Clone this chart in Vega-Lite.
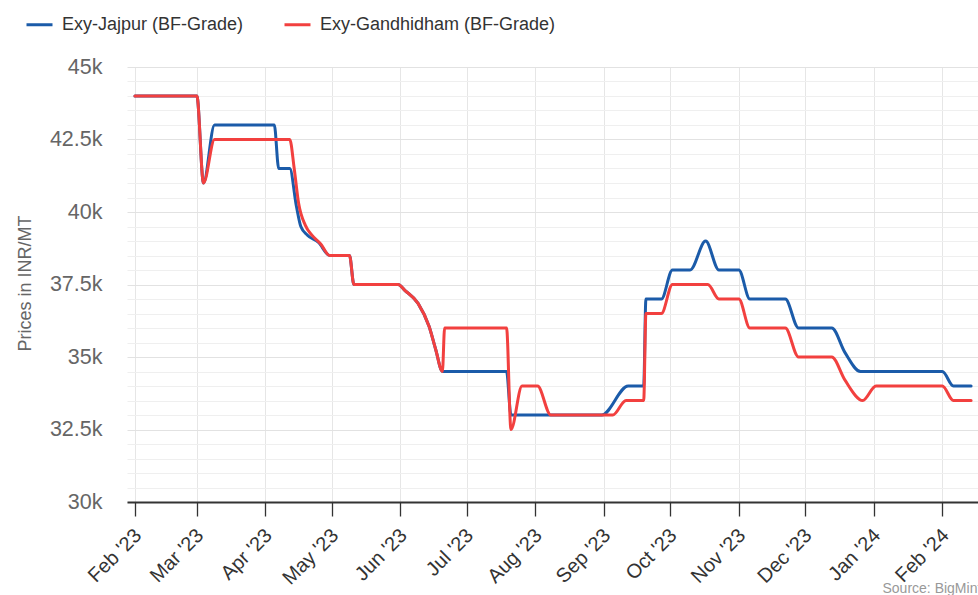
{
  "$schema": "https://vega.github.io/schema/vega-lite/v6.json",
  "width": 851,
  "height": 435,
  "autosize": {"type": "none"},
  "padding": {"left": 127, "top": 67, "right": 0, "bottom": 93},
  "background": "#ffffff",
  "config": {
    "font": "Liberation Sans",
    "view": {"stroke": null}
  },
  "datasets": {
    "prices": [
      {"date": "2023-02-01", "series": "Exy-Jajpur (BF-Grade)", "price": 44000},
      {"date": "2023-03-01", "series": "Exy-Jajpur (BF-Grade)", "price": 44000},
      {"date": "2023-03-04", "series": "Exy-Jajpur (BF-Grade)", "price": 41000},
      {"date": "2023-03-09", "series": "Exy-Jajpur (BF-Grade)", "price": 43000},
      {"date": "2023-04-05", "series": "Exy-Jajpur (BF-Grade)", "price": 43000},
      {"date": "2023-04-07", "series": "Exy-Jajpur (BF-Grade)", "price": 41500},
      {"date": "2023-04-12", "series": "Exy-Jajpur (BF-Grade)", "price": 41500},
      {"date": "2023-04-15", "series": "Exy-Jajpur (BF-Grade)", "price": 40200},
      {"date": "2023-04-17", "series": "Exy-Jajpur (BF-Grade)", "price": 39500},
      {"date": "2023-04-20", "series": "Exy-Jajpur (BF-Grade)", "price": 39200},
      {"date": "2023-04-25", "series": "Exy-Jajpur (BF-Grade)", "price": 38950},
      {"date": "2023-04-30", "series": "Exy-Jajpur (BF-Grade)", "price": 38500},
      {"date": "2023-05-09", "series": "Exy-Jajpur (BF-Grade)", "price": 38500},
      {"date": "2023-05-11", "series": "Exy-Jajpur (BF-Grade)", "price": 37500},
      {"date": "2023-05-31", "series": "Exy-Jajpur (BF-Grade)", "price": 37500},
      {"date": "2023-06-03", "series": "Exy-Jajpur (BF-Grade)", "price": 37300},
      {"date": "2023-06-09", "series": "Exy-Jajpur (BF-Grade)", "price": 36850},
      {"date": "2023-06-14", "series": "Exy-Jajpur (BF-Grade)", "price": 36050},
      {"date": "2023-06-17", "series": "Exy-Jajpur (BF-Grade)", "price": 35250},
      {"date": "2023-06-20", "series": "Exy-Jajpur (BF-Grade)", "price": 34500},
      {"date": "2023-07-19", "series": "Exy-Jajpur (BF-Grade)", "price": 34500},
      {"date": "2023-07-21", "series": "Exy-Jajpur (BF-Grade)", "price": 33000},
      {"date": "2023-08-31", "series": "Exy-Jajpur (BF-Grade)", "price": 33000},
      {"date": "2023-09-12", "series": "Exy-Jajpur (BF-Grade)", "price": 34000},
      {"date": "2023-09-19", "series": "Exy-Jajpur (BF-Grade)", "price": 34000},
      {"date": "2023-09-20", "series": "Exy-Jajpur (BF-Grade)", "price": 37000},
      {"date": "2023-09-27", "series": "Exy-Jajpur (BF-Grade)", "price": 37000},
      {"date": "2023-10-02", "series": "Exy-Jajpur (BF-Grade)", "price": 38000},
      {"date": "2023-10-10", "series": "Exy-Jajpur (BF-Grade)", "price": 38000},
      {"date": "2023-10-17", "series": "Exy-Jajpur (BF-Grade)", "price": 39000},
      {"date": "2023-10-23", "series": "Exy-Jajpur (BF-Grade)", "price": 38000},
      {"date": "2023-11-01", "series": "Exy-Jajpur (BF-Grade)", "price": 38000},
      {"date": "2023-11-06", "series": "Exy-Jajpur (BF-Grade)", "price": 37000},
      {"date": "2023-11-22", "series": "Exy-Jajpur (BF-Grade)", "price": 37000},
      {"date": "2023-11-28", "series": "Exy-Jajpur (BF-Grade)", "price": 36000},
      {"date": "2023-12-13", "series": "Exy-Jajpur (BF-Grade)", "price": 36000},
      {"date": "2023-12-19", "series": "Exy-Jajpur (BF-Grade)", "price": 35150},
      {"date": "2023-12-26", "series": "Exy-Jajpur (BF-Grade)", "price": 34500},
      {"date": "2024-02-01", "series": "Exy-Jajpur (BF-Grade)", "price": 34500},
      {"date": "2024-02-06", "series": "Exy-Jajpur (BF-Grade)", "price": 34000},
      {"date": "2024-02-14", "series": "Exy-Jajpur (BF-Grade)", "price": 34000},
      {"date": "2023-02-01", "series": "Exy-Gandhidham (BF-Grade)", "price": 44000},
      {"date": "2023-03-01", "series": "Exy-Gandhidham (BF-Grade)", "price": 44000},
      {"date": "2023-03-04", "series": "Exy-Gandhidham (BF-Grade)", "price": 41000},
      {"date": "2023-03-09", "series": "Exy-Gandhidham (BF-Grade)", "price": 42500},
      {"date": "2023-04-12", "series": "Exy-Gandhidham (BF-Grade)", "price": 42500},
      {"date": "2023-04-14", "series": "Exy-Gandhidham (BF-Grade)", "price": 41500},
      {"date": "2023-04-16", "series": "Exy-Gandhidham (BF-Grade)", "price": 40300},
      {"date": "2023-04-19", "series": "Exy-Gandhidham (BF-Grade)", "price": 39550},
      {"date": "2023-04-22", "series": "Exy-Gandhidham (BF-Grade)", "price": 39200},
      {"date": "2023-04-26", "series": "Exy-Gandhidham (BF-Grade)", "price": 38900},
      {"date": "2023-04-30", "series": "Exy-Gandhidham (BF-Grade)", "price": 38500},
      {"date": "2023-05-09", "series": "Exy-Gandhidham (BF-Grade)", "price": 38500},
      {"date": "2023-05-11", "series": "Exy-Gandhidham (BF-Grade)", "price": 37500},
      {"date": "2023-05-31", "series": "Exy-Gandhidham (BF-Grade)", "price": 37500},
      {"date": "2023-06-03", "series": "Exy-Gandhidham (BF-Grade)", "price": 37300},
      {"date": "2023-06-09", "series": "Exy-Gandhidham (BF-Grade)", "price": 36850},
      {"date": "2023-06-14", "series": "Exy-Gandhidham (BF-Grade)", "price": 36050},
      {"date": "2023-06-17", "series": "Exy-Gandhidham (BF-Grade)", "price": 35250},
      {"date": "2023-06-20", "series": "Exy-Gandhidham (BF-Grade)", "price": 34500},
      {"date": "2023-06-21", "series": "Exy-Gandhidham (BF-Grade)", "price": 36000},
      {"date": "2023-07-19", "series": "Exy-Gandhidham (BF-Grade)", "price": 36000},
      {"date": "2023-07-21", "series": "Exy-Gandhidham (BF-Grade)", "price": 32500},
      {"date": "2023-07-26", "series": "Exy-Gandhidham (BF-Grade)", "price": 34000},
      {"date": "2023-08-02", "series": "Exy-Gandhidham (BF-Grade)", "price": 34000},
      {"date": "2023-08-08", "series": "Exy-Gandhidham (BF-Grade)", "price": 33000},
      {"date": "2023-09-05", "series": "Exy-Gandhidham (BF-Grade)", "price": 33000},
      {"date": "2023-09-11", "series": "Exy-Gandhidham (BF-Grade)", "price": 33500},
      {"date": "2023-09-19", "series": "Exy-Gandhidham (BF-Grade)", "price": 33500},
      {"date": "2023-09-20", "series": "Exy-Gandhidham (BF-Grade)", "price": 36500},
      {"date": "2023-09-27", "series": "Exy-Gandhidham (BF-Grade)", "price": 36500},
      {"date": "2023-10-02", "series": "Exy-Gandhidham (BF-Grade)", "price": 37500},
      {"date": "2023-10-18", "series": "Exy-Gandhidham (BF-Grade)", "price": 37500},
      {"date": "2023-10-23", "series": "Exy-Gandhidham (BF-Grade)", "price": 37000},
      {"date": "2023-11-01", "series": "Exy-Gandhidham (BF-Grade)", "price": 37000},
      {"date": "2023-11-06", "series": "Exy-Gandhidham (BF-Grade)", "price": 36000},
      {"date": "2023-11-22", "series": "Exy-Gandhidham (BF-Grade)", "price": 36000},
      {"date": "2023-11-28", "series": "Exy-Gandhidham (BF-Grade)", "price": 35000},
      {"date": "2023-12-13", "series": "Exy-Gandhidham (BF-Grade)", "price": 35000},
      {"date": "2023-12-19", "series": "Exy-Gandhidham (BF-Grade)", "price": 34200},
      {"date": "2023-12-27", "series": "Exy-Gandhidham (BF-Grade)", "price": 33500},
      {"date": "2024-01-02", "series": "Exy-Gandhidham (BF-Grade)", "price": 34000},
      {"date": "2024-02-01", "series": "Exy-Gandhidham (BF-Grade)", "price": 34000},
      {"date": "2024-02-06", "series": "Exy-Gandhidham (BF-Grade)", "price": 33500},
      {"date": "2024-02-14", "series": "Exy-Gandhidham (BF-Grade)", "price": 33500}
    ]
  },
  "data": {"name": "prices"},
  "mark": {"type": "line", "interpolate": "monotone", "strokeWidth": 3, "strokeJoin": "round", "strokeCap": "round", "clip": true},
  "encoding": {
    "x": {
      "field": "date",
      "type": "temporal",
      "scale": {
        "type": "utc",
        "domain": [
          {"year": 2023, "month": 1, "date": 28, "hours": 10, "utc": true},
          {"year": 2024, "month": 2, "date": 17, "hours": 3, "utc": true}
        ]
      },
      "axis": {
        "title": "Source: BigMint",
        "titleX": 755,
        "titleY": 90,
        "titleAlign": "left",
        "titleAnchor": null,
        "titleBaseline": "alphabetic",
        "titleFontSize": 14,
        "titleFontWeight": "normal",
        "titleColor": "#999999",
        "format": "%b '%y",
        "tickCount": {"interval": "month", "step": 1},
        "labelAngle": -45,
        "labelAlign": "right",
        "labelBaseline": "middle",
        "labelFontSize": 20,
        "labelColor": "#333333",
        "labelPadding": 16,
        "labelOffset": 3,
        "labelOverlap": false,
        "labelFlush": false,
        "tickSize": 14,
        "tickColor": "#333333",
        "tickWidth": 1.3,
        "domainColor": "#333333",
        "domainWidth": 2,
        "grid": true,
        "gridColor": "#e6e6e6",
        "gridWidth": 1
      }
    },
    "y": {
      "field": "price",
      "type": "quantitative",
      "scale": {"domain": [30000, 45000], "nice": false, "zero": false},
      "axis": {
        "title": "Prices in INR/MT",
        "titleX": -102,
        "titleY": 216,
        "titleAngle": -90,
        "titleAlign": "center",
        "titleBaseline": "middle",
        "titleFontSize": 18,
        "titleFontWeight": "normal",
        "titleColor": "#666666",
        "values": [30000, 30500, 31000, 31500, 32000, 32500, 33000, 33500, 34000, 34500, 35000, 35500, 36000, 36500, 37000, 37500, 38000, 38500, 39000, 39500, 40000, 40500, 41000, 41500, 42000, 42500, 43000, 43500, 44000, 44500, 45000],
        "labelExpr": "datum.value % 2500 === 0 ? (datum.value / 1000) + 'k' : ''",
        "labelFontSize": 21.5,
        "labelColor": "#666666",
        "labelPadding": 25,
        "labelOverlap": false,
        "domain": false,
        "ticks": false,
        "grid": true,
        "gridColor": {"condition": {"test": "datum.value % 2500 === 0", "value": "#e2e2e2"}, "value": "#efefef"},
        "gridWidth": 1
      }
    },
    "color": {
      "field": "series",
      "type": "nominal",
      "sort": ["Exy-Jajpur (BF-Grade)", "Exy-Gandhidham (BF-Grade)"],
      "scale": {"domain": ["Exy-Jajpur (BF-Grade)", "Exy-Gandhidham (BF-Grade)"], "range": ["#1b5ba9", "#f2403f"]},
      "legend": {
        "title": null,
        "orient": "none",
        "legendX": -102,
        "legendY": -57,
        "direction": "horizontal",
        "padding": 0,
        "symbolType": "stroke",
        "symbolSize": 676,
        "symbolStrokeWidth": 3,
        "labelFontSize": 18,
        "labelLimit": 500,
        "labelColor": "#333333",
        "labelOffset": 8,
        "columnPadding": 34
      }
    }
  }
}
